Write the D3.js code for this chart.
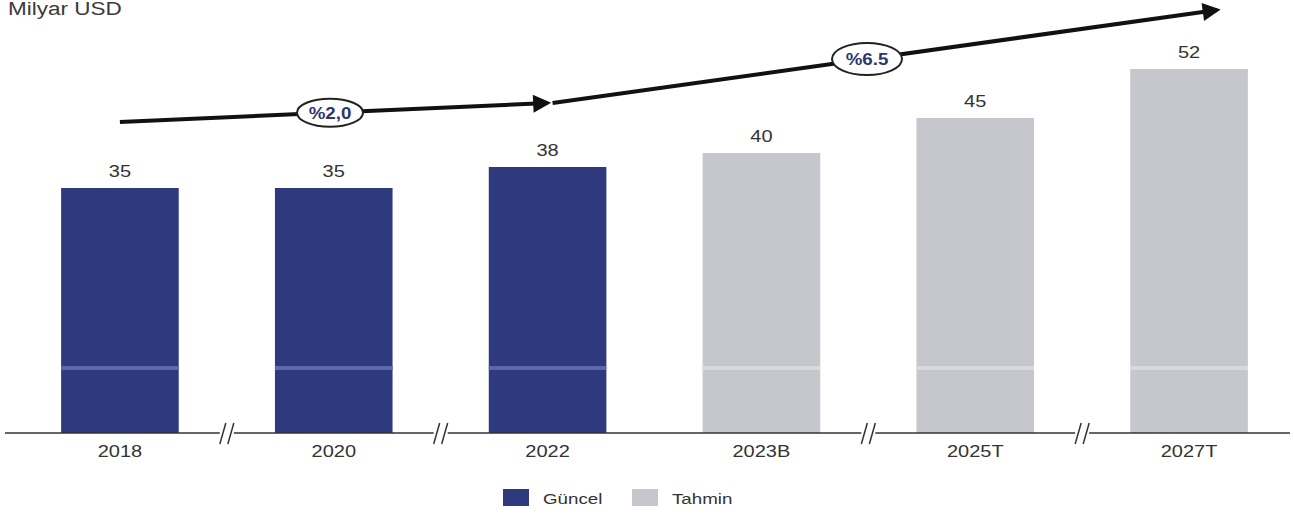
<!DOCTYPE html>
<html>
<head>
<meta charset="utf-8">
<script src="https://cdn.jsdelivr.net/npm/d3@7"></script>
<style>
  html, body { margin: 0; padding: 0; background: #fff; }
  svg { display: block; font-family: Arial, "Liberation Sans", sans-serif; }
</style>
</head>
<body>
<svg id="chart" width="1294" height="517"></svg>
<script>
// ---- data ----
const categories = ["2018", "2020", "2022", "2023B", "2025T", "2027T"];
const values = [35, 35, 38, 40, 45, 52];
const seriesType = ["Güncel", "Güncel", "Güncel", "Tahmin", "Tahmin", "Tahmin"];
const breakAfter = ["2018", "2020", "2023B", "2025T"];
const growthLabels = ["%2,0", "%6.5"];
const legendLabels = ["Güncel", "Tahmin"];
const unitLabel = "Milyar USD";

// ---- layout ----
const baseY = 433;
const SX = 1.25; // horizontal stretch of the scanned text
const svg = d3.select("#chart");
const colors = { "Güncel": "#2f3a7e", "Tahmin": "#c6c6cd" };
const stripeColors = { "Güncel": "#5d67a6", "Tahmin": "#d9d9de" };

const x = d3.scaleBand().domain(categories).range([13, 1296]).paddingInner(0.45).paddingOuter(0.225);
const y = d3.scaleLinear().domain([0, 60]).range([baseY, 13]);

const data = categories.map((c, i) => ({ cat: c, value: values[i], type: seriesType[i] }));

function stretchedText(px, py, str, size, anchor, fill, weight) {
  return svg.append("text")
    .attr("transform", `translate(${px},${py}) scale(${SX},1)`)
    .attr("text-anchor", anchor || "start")
    .attr("font-size", size).attr("fill", fill || "#333")
    .attr("font-weight", weight || "normal")
    .text(str);
}

// title
stretchedText(8, 15, unitLabel, 18, "start", "#3a3a3a");

// bars
svg.selectAll("rect.bar").data(data).join("rect")
  .attr("class", "bar")
  .attr("x", d => x(d.cat)).attr("width", x.bandwidth())
  .attr("y", d => y(d.value)).attr("height", d => y(0) - y(d.value))
  .attr("fill", d => colors[d.type]);

// light scan stripe across bars
svg.selectAll("rect.stripe").data(data).join("rect")
  .attr("class", "stripe")
  .attr("x", d => x(d.cat)).attr("width", x.bandwidth())
  .attr("y", 366).attr("height", 4)
  .attr("fill", d => stripeColors[d.type]);

// value labels
data.forEach(d => {
  stretchedText(x(d.cat) + x.bandwidth() / 2, y(d.value) - 11, d.value, 16, "middle", "#333");
});

// axis
const xAxis = d3.axisBottom(x).tickSize(0).tickPadding(13);
const gAx = svg.append("g").attr("transform", `translate(0,${baseY})`).call(xAxis);
gAx.select(".domain").remove();
gAx.selectAll("text").attr("font-size", 16).attr("fill", "#333")
  .attr("font-family", "Arial, 'Liberation Sans', sans-serif")
  .attr("transform", `scale(${SX},1)`);
svg.append("line").attr("x1", 5).attr("x2", 1290).attr("y1", baseY).attr("y2", baseY)
  .attr("stroke", "#333").attr("stroke-width", 1.5);

// break marks
const step = x.step();
breakAfter.forEach(c => {
  const cx = x(c) + x.bandwidth() / 2 + step / 2;
  const g = svg.append("g");
  g.append("rect").attr("x", cx - 7).attr("y", baseY - 3).attr("width", 14).attr("height", 6).attr("fill", "#fff");
  [-4, 4].forEach(off => {
    g.append("line").attr("x1", cx + off - 3).attr("y1", baseY + 11)
      .attr("x2", cx + off + 3).attr("y2", baseY - 10)
      .attr("stroke", "#333").attr("stroke-width", 1.5);
  });
});

// growth arrows
const defs = svg.append("defs");
defs.append("marker").attr("id", "ah").attr("viewBox", "0 0 10 10")
  .attr("refX", 8).attr("refY", 5).attr("markerWidth", 5).attr("markerHeight", 4.5)
  .attr("orient", "auto").attr("markerUnits", "strokeWidth")
  .append("path").attr("d", "M0,0 L10,5 L0,10 Z").attr("fill", "#111");

const cx0 = x(categories[0]) + x.bandwidth() / 2;
const cx2 = x(categories[2]) + x.bandwidth() / 2;
const cx5 = x(categories[5]) + x.bandwidth() / 2;
const arrows = [
  { x1: cx0, y1: 122, x2: cx2, y2: 103, label: growthLabels[0], lx: 330, rx: 33, ry: 14 },
  { x1: cx2 + 5, y1: 103, x2: cx5 + 28, y2: 10, label: growthLabels[1], lx: 867, rx: 35, ry: 16 }
];
arrows.forEach(a => {
  svg.append("line").attr("x1", a.x1).attr("y1", a.y1).attr("x2", a.x2).attr("y2", a.y2)
    .attr("stroke", "#111").attr("stroke-width", 4).attr("marker-end", "url(#ah)");
  const t = (a.lx - a.x1) / (a.x2 - a.x1);
  const ly = a.y1 + t * (a.y2 - a.y1);
  svg.append("ellipse").attr("cx", a.lx).attr("cy", ly).attr("rx", a.rx).attr("ry", a.ry)
    .attr("fill", "#fff").attr("stroke", "#222").attr("stroke-width", 2);
  svg.append("text")
    .attr("transform", `translate(${a.lx},${ly + 6}) scale(1.1,1)`)
    .attr("text-anchor", "middle")
    .attr("font-size", 17).attr("font-weight", "bold").attr("fill", "#2b356e").text(a.label);
});

// legend
const legendX = [503, 632];
legendLabels.forEach((l, i) => {
  svg.append("rect").attr("x", legendX[i]).attr("y", 489).attr("width", 26).attr("height", 17).attr("fill", colors[l]);
  stretchedText(legendX[i] + 40, 504, l, 15, "start", "#333");
});
</script>
</body>
</html>
